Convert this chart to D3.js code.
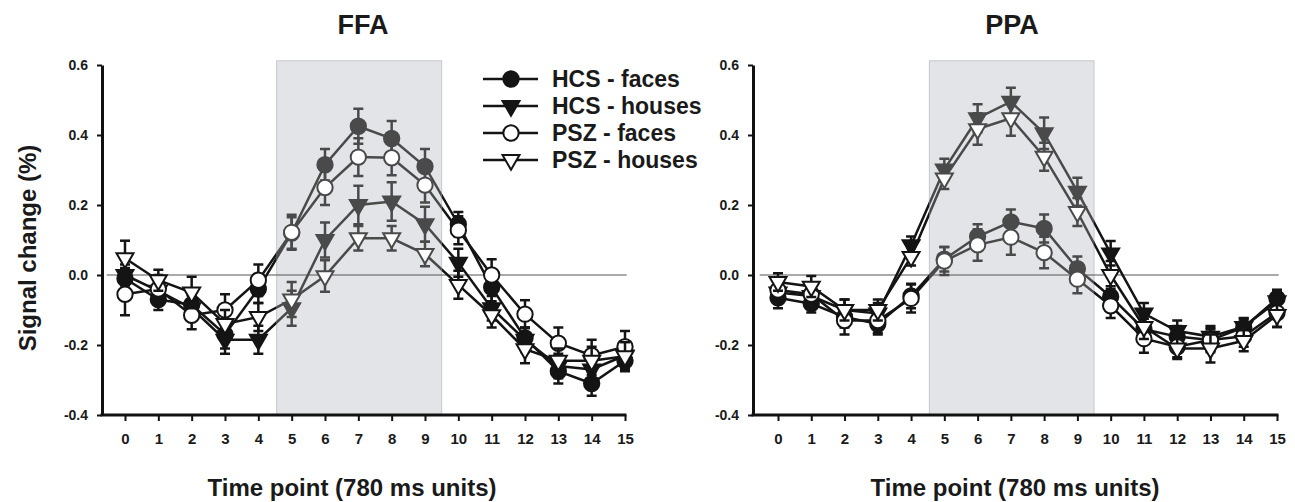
<!DOCTYPE html>
<html>
<head>
<meta charset="utf-8">
<script src="https://cdn.jsdelivr.net/npm/d3@7"></script>
<style>
body { margin: 0; background: #fff; }
text { font-family: "Liberation Sans", Arial, sans-serif; font-weight: bold; fill: #1a1a1a; }
</style>
</head>
<body>
<div id="chart"></div>
<script>
// time points and tick values
var timePoints = [0, 1, 2, 3, 4, 5, 6, 7, 8, 9, 10, 11, 12, 13, 14, 15];
var yTicks = [-0.4, -0.2, 0.0, 0.2, 0.4, 0.6];
var seriesNames = ["HCS - faces", "HCS - houses", "PSZ - faces", "PSZ - houses"];
var stimStart = 4.55, stimEnd = 9.5;

// FFA means
var ffaHcsFaces  = [-0.01, -0.07, -0.085, -0.17, -0.04, 0.12, 0.315, 0.425, 0.39, 0.31, 0.145, -0.035, -0.18, -0.275, -0.31, -0.245];
var ffaHcsHouses = [0.0, -0.045, -0.095, -0.185, -0.185, -0.095, 0.1, 0.2, 0.21, 0.145, 0.035, -0.095, -0.185, -0.26, -0.27, -0.23];
var ffaPszFaces  = [-0.055, -0.04, -0.115, -0.1, -0.015, 0.122, 0.25, 0.337, 0.335, 0.257, 0.128, 0.0, -0.112, -0.195, -0.23, -0.205];
var ffaPszHouses = [0.048, -0.015, -0.05, -0.14, -0.12, -0.07, -0.003, 0.105, 0.105, 0.06, -0.028, -0.115, -0.212, -0.245, -0.245, -0.232];
// FFA standard errors
var ffaHcsFacesSe  = [0.03, 0.03, 0.03, 0.04, 0.04, 0.045, 0.045, 0.05, 0.05, 0.05, 0.035, 0.04, 0.03, 0.035, 0.035, 0.03];
var ffaHcsHousesSe = [0.03, 0.035, 0.035, 0.04, 0.04, 0.05, 0.05, 0.055, 0.055, 0.05, 0.04, 0.035, 0.035, 0.035, 0.035, 0.035];
var ffaPszFacesSe  = [0.06, 0.04, 0.04, 0.045, 0.045, 0.05, 0.05, 0.054, 0.05, 0.05, 0.04, 0.045, 0.04, 0.045, 0.045, 0.045];
var ffaPszHousesSe = [0.05, 0.03, 0.045, 0.04, 0.04, 0.05, 0.045, 0.035, 0.035, 0.035, 0.04, 0.035, 0.04, 0.035, 0.04, 0.04];

// PPA means
var ppaHcsFaces  = [-0.065, -0.082, -0.12, -0.14, -0.06, 0.045, 0.11, 0.152, 0.133, 0.018, -0.062, -0.155, -0.176, -0.186, -0.15, -0.067];
var ppaHcsHouses = [-0.05, -0.06, -0.1, -0.11, 0.085, 0.302, 0.448, 0.495, 0.405, 0.238, 0.062, -0.11, -0.16, -0.176, -0.148, -0.075];
var ppaPszFaces  = [-0.043, -0.055, -0.13, -0.13, -0.067, 0.04, 0.086, 0.108, 0.064, -0.012, -0.088, -0.182, -0.205, -0.186, -0.175, -0.108];
var ppaPszHouses = [-0.02, -0.033, -0.1, -0.1, 0.052, 0.276, 0.417, 0.448, 0.338, 0.18, 0.0, -0.148, -0.21, -0.21, -0.188, -0.114];
// PPA standard errors
var ppaHcsFacesSe  = [0.03, 0.025, 0.03, 0.03, 0.035, 0.035, 0.035, 0.035, 0.04, 0.035, 0.03, 0.03, 0.03, 0.03, 0.025, 0.025];
var ppaHcsHousesSe = [0.025, 0.025, 0.03, 0.03, 0.025, 0.03, 0.04, 0.04, 0.045, 0.04, 0.035, 0.03, 0.03, 0.03, 0.025, 0.03];
var ppaPszFacesSe  = [0.03, 0.03, 0.04, 0.035, 0.04, 0.04, 0.045, 0.05, 0.045, 0.04, 0.035, 0.04, 0.03, 0.035, 0.03, 0.04];
var ppaPszHousesSe = [0.025, 0.03, 0.03, 0.03, 0.025, 0.03, 0.045, 0.05, 0.04, 0.04, 0.04, 0.035, 0.03, 0.04, 0.03, 0.035];

/* markers: filled circle, filled triangle, open circle, open triangle */
var markerType = [d3.symbolCircle, d3.symbolTriangle, d3.symbolCircle, d3.symbolTriangle];
var markerSize = [185, 125, 185, 125];
var markerOpen = [false, false, true, true];

var panels = [
  {name: "FFA", axisX: 102, x0: 125, x15: 625, titleX: 363, xTitleX: 352, legend: true,
   means: [ffaHcsFaces, ffaHcsHouses, ffaPszFaces, ffaPszHouses],
   errs: [ffaHcsFacesSe, ffaHcsHousesSe, ffaPszFacesSe, ffaPszHousesSe]},
  {name: "PPA", axisX: 753, x0: 778, x15: 1277, titleX: 1012, xTitleX: 1015, legend: false,
   means: [ppaHcsFaces, ppaHcsHouses, ppaPszFaces, ppaPszHouses],
   errs: [ppaHcsFacesSe, ppaHcsHousesSe, ppaPszFacesSe, ppaPszHousesSe]}
];

var svg = d3.select("#chart").append("svg")
    .attr("width", 1295)
    .attr("height", 502);
var defs = svg.append("defs");

var y = d3.scaleLinear().domain([-0.4, 0.6]).range([415, 65]);

function marker(k) {
  return d3.symbol().type(markerType[k]).size(markerSize[k])();
}

function drawSeries(layer, x, p, color) {
  p.means.forEach(function(vals, k) {
    var se = p.errs[k];
    var sg = layer.append("g");
    var line = d3.line()
        .x(function(d, i) { return x(timePoints[i]); })
        .y(function(d) { return y(d); });
    sg.append("path")
        .attr("d", line(vals))
        .attr("fill", "none")
        .attr("stroke", color)
        .attr("stroke-width", 2.5);

    // error bars
    var eb = sg.selectAll(".eb").data(vals).enter().append("g");
    eb.append("line")
        .attr("x1", function(d, i) { return x(timePoints[i]); })
        .attr("x2", function(d, i) { return x(timePoints[i]); })
        .attr("y1", function(d, i) { return y(d - se[i]); })
        .attr("y2", function(d, i) { return y(d + se[i]); });
    eb.append("line")
        .attr("x1", function(d, i) { return x(timePoints[i]) - 5; })
        .attr("x2", function(d, i) { return x(timePoints[i]) + 5; })
        .attr("y1", function(d, i) { return y(d + se[i]); })
        .attr("y2", function(d, i) { return y(d + se[i]); });
    eb.append("line")
        .attr("x1", function(d, i) { return x(timePoints[i]) - 5; })
        .attr("x2", function(d, i) { return x(timePoints[i]) + 5; })
        .attr("y1", function(d, i) { return y(d - se[i]); })
        .attr("y2", function(d, i) { return y(d - se[i]); });
    eb.selectAll("line").attr("stroke", color).attr("stroke-width", 2.5);

    // markers
    sg.selectAll(".mk").data(vals).enter().append("path")
        .attr("d", marker(k))
        .attr("transform", function(d, i) {
          return "translate(" + x(timePoints[i]) + "," + y(d) + ")" + (markerType[k] === d3.symbolTriangle ? " rotate(180)" : "");
        })
        .attr("fill", markerOpen[k] ? "#fff" : color)
        .attr("stroke", color)
        .attr("stroke-width", 2);
  });
}

panels.forEach(function(p, pi) {
  var x = d3.scaleLinear().domain([0, 15]).range([p.x0, p.x15]);
  var g = svg.append("g");

  // stimulus block
  var bx0 = x(stimStart), bx1 = x(stimEnd);
  g.append("rect")
      .attr("x", bx0)
      .attr("y", y(0.612))
      .attr("width", bx1 - bx0)
      .attr("height", y(-0.4) - y(0.612))
      .attr("fill", "#e3e4e7")
      .attr("stroke", "#c5c7ca")
      .attr("stroke-width", 1);

  // zero line
  g.append("line")
      .attr("x1", x(-0.55)).attr("x2", x(15.05))
      .attr("y1", y(0)).attr("y2", y(0))
      .attr("stroke", "#555")
      .attr("stroke-width", 1);

  // clip regions: gray inside the block, black outside
  defs.append("clipPath").attr("id", "in" + pi)
    .append("rect").attr("x", bx0).attr("y", 0).attr("width", bx1 - bx0).attr("height", 502);
  var outClip = defs.append("clipPath").attr("id", "out" + pi);
  outClip.append("rect").attr("x", 0).attr("y", 0).attr("width", bx0).attr("height", 502);
  outClip.append("rect").attr("x", bx1).attr("y", 0).attr("width", 1295 - bx1).attr("height", 502);

  drawSeries(g.append("g").attr("clip-path", "url(#out" + pi + ")"), x, p, "#141414");
  drawSeries(g.append("g").attr("clip-path", "url(#in" + pi + ")"), x, p, "#4a4a4a");

  // y axis
  var yAxis = d3.axisLeft(y)
      .tickValues(yTicks)
      .tickFormat(function(d) { return d.toFixed(1); })
      .tickSize(5)
      .tickPadding(9)
      .tickSizeOuter(0);
  var ya = g.append("g")
      .attr("transform", "translate(" + p.axisX + ",0)")
      .call(yAxis);
  ya.select(".domain").attr("stroke", "#111").attr("stroke-width", 3);
  ya.selectAll(".tick line").attr("stroke", "#111").attr("stroke-width", 2);
  ya.selectAll(".tick text").style("font-size", "14px").attr("fill", "#1a1a1a");

  // x axis
  g.append("line")
      .attr("x1", p.axisX - 1.5).attr("x2", x(15) + 1.5)
      .attr("y1", 415).attr("y2", 415)
      .attr("stroke", "#111")
      .attr("stroke-width", 3);
  var xAxis = d3.axisBottom(x)
      .tickValues(timePoints)
      .tickSize(6)
      .tickPadding(12)
      .tickSizeOuter(0);
  var xa = g.append("g")
      .attr("transform", "translate(0,415)")
      .call(xAxis);
  xa.select(".domain").remove();
  xa.selectAll(".tick line").attr("stroke", "#111").attr("stroke-width", 2);
  xa.selectAll(".tick text").style("font-size", "15px").attr("fill", "#1a1a1a");

  // titles
  g.append("text")
      .attr("x", p.titleX).attr("y", 34)
      .attr("text-anchor", "middle")
      .style("font-size", "27px")
      .text(p.name);
  g.append("text")
      .attr("x", p.xTitleX).attr("y", 496)
      .attr("text-anchor", "middle")
      .style("font-size", "24px")
      .text("Time point (780 ms units)");

  if (p.legend) {
    var lg = g.append("g");
    seriesNames.forEach(function(name, k) {
      var ly = 79 + k * 27;
      lg.append("line")
          .attr("x1", 483).attr("x2", 538)
          .attr("y1", ly).attr("y2", ly)
          .attr("stroke", "#141414")
          .attr("stroke-width", 2.5);
      lg.append("path")
          .attr("d", marker(k))
          .attr("transform", "translate(511," + ly + ")" + (markerType[k] === d3.symbolTriangle ? " rotate(180)" : ""))
          .attr("fill", markerOpen[k] ? "#fff" : "#141414")
          .attr("stroke", "#141414")
          .attr("stroke-width", 2);
      lg.append("text")
          .attr("x", 552).attr("y", ly)
          .attr("dy", "0.36em")
          .style("font-size", "23px")
          .text(name);
    });
  }
});

// y axis title
svg.append("text")
    .attr("transform", "translate(36,248) rotate(-90)")
    .attr("text-anchor", "middle")
    .style("font-size", "24px")
    .text("Signal change (%)");
</script>
</body>
</html>
